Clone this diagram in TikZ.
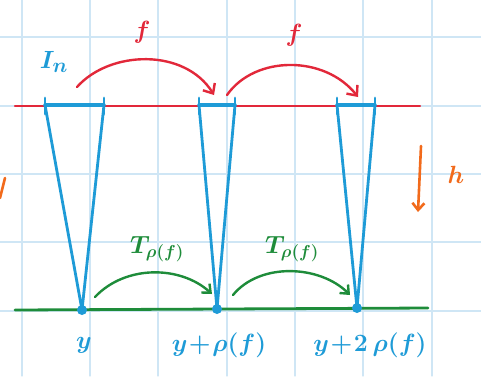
\documentclass[tikz,border=0pt]{standalone}
\usetikzlibrary{arrows.meta}
\definecolor{gridc}{HTML}{CFE6F5}
\definecolor{penblue}{HTML}{1E9BD7}
\definecolor{penred}{HTML}{E2283A}
\definecolor{pengreen}{HTML}{1E8C3A}
\definecolor{penorange}{HTML}{F26A1B}
\begin{document}
\begin{tikzpicture}[x=1pt,y=-1pt, line cap=round, line join=round,
  gridline/.style={gridc, line width=1.2pt},
  redaxis/.style={penred, line width=2.4pt},
  greenaxis/.style={pengreen, line width=2.8pt},
  interval/.style={penblue, line width=3.4pt},
  tick/.style={penblue, line width=2.8pt},
  funnel/.style={penblue, line width=2.8pt},
  dot/.style={circle, fill=penblue, inner sep=0pt, minimum size=10pt},
  redarrow/.style={penred, line width=2.4pt, -{Straight Barb[length=8pt,width=14pt,line width=2.4pt]}},
  greenarrow/.style={pengreen, line width=2.4pt, -{Straight Barb[length=7pt,width=12pt,line width=2.4pt]}},
  lab/.style={inner sep=1pt, font=\fontsize{27}{30}\selectfont\boldmath},
  big/.style={inner sep=1pt, font=\fontsize{32}{36}\selectfont\boldmath},
  slab/.style={inner sep=1pt, font=\fontsize{26}{30}\selectfont\boldmath}]
\useasboundingbox (0,0) rectangle (481,376);
\fill[white] (0,0) rectangle (481,376);
% grid
\foreach \x in {22,90,158,227,295,363,432} \draw[gridline] (\x,0) -- (\x,376);
\foreach \y in {37,106,174,242,311} \draw[gridline] (0,\y) -- (481,\y);
% axes
\coordinate (rl) at (15,106);
\coordinate (rr) at (420,106);
\coordinate (gl) at (15,310);
\coordinate (gr) at (428,308);
\draw[redaxis] (rl) -- (rr);
\draw[greenaxis] (gl) -- (gr);
% interval ends
\coordinate (a1) at (45,105);
\coordinate (b1) at (104,105);
\coordinate (a2) at (199,105);
\coordinate (b2) at (235,105);
\coordinate (a3) at (337,105);
\coordinate (b3) at (375,105);
% points
\node[dot] (p0) at (82,310) {};
\node[dot] (p1) at (217,309) {};
\node[dot] (p2) at (357,308) {};
% funnels
\draw[funnel] (a1) -- (p0.center) -- (b1);
\draw[funnel] (a2) -- (p1.center) -- (b2);
\draw[funnel] (a3) -- (p2.center) -- (b3);
% intervals
\draw[interval] (a1) -- (b1);
\draw[interval] (a2) -- (b2);
\draw[interval] (a3) -- (b3);
\foreach \c in {a1,b1,a2,b2,a3,b3} \draw[tick] ([yshift=7pt]\c) -- ([yshift=-9pt]\c);
% red arrows f
\coordinate (f1s) at (77,87);
\coordinate (f1e) at (214,95);
\coordinate (f2s) at (227,95);
\coordinate (f2e) at (358,97);
\draw[redarrow] (f1s) .. controls (110,50) and (185,48) .. (f1e);
\draw[redarrow] (f2s) .. controls (255,55) and (325,55) .. (f2e);
\node[big, text=penred] (f1) at (142,32) {$f$};
\node[big, text=penred] (f2) at (294,35) {$f$};
% green arrows T
\coordinate (t1s) at (95,297);
\coordinate (t1e) at (212,294);
\coordinate (t2s) at (233,295);
\coordinate (t2e) at (350,295);
\draw[greenarrow] (t1s) .. controls (125,265) and (180,265) .. (t1e);
\draw[greenarrow] (t2s) .. controls (260,262) and (320,265) .. (t2e);
\node[slab, text=pengreen] (T1) at (157,249) {$T_{\rho(f)}$};
\node[slab, text=pengreen] (T2) at (292,249) {$T_{\rho(f)}$};
% I_n
\node[big, text=penblue] (In) at (54,62) {$I_n$};
% labels below
\node[lab, text=penblue] (ly0) at (84,345) {$y$};
\node[lab, text=penblue] (ly1) at (219,345) {$y\!+\!\rho(f)$};
\node[lab, text=penblue] (ly2) at (370,345) {$y\!+\!2\,\rho(f)$};
% h arrow
\coordinate (hs) at (421,146);
\coordinate (he) at (418,212);
\draw[penorange, line width=2.6pt, -{Straight Barb[length=7pt,width=12pt,line width=2.6pt]}] (hs) -- (he);
\node[big, text=penorange] (h) at (456,175) {$h$};
% cut-off orange mark at left edge
\coordinate (o1) at (5,178);
\coordinate (o2) at (0,198);
\draw[penorange, line width=2.6pt] (o1) -- (o2);
\end{tikzpicture}
\end{document}
